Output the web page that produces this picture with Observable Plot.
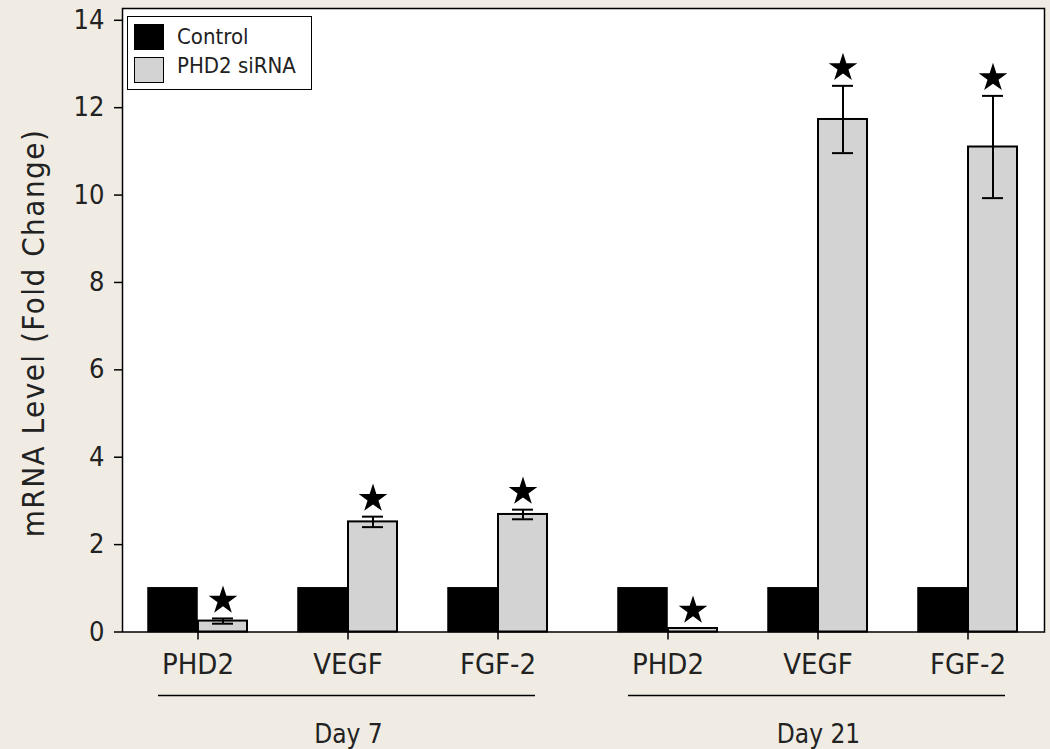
<!DOCTYPE html>
<html>
<head>
<meta charset="utf-8">
<script src="https://cdn.jsdelivr.net/npm/d3@7"></script>
<script src="https://cdn.jsdelivr.net/npm/@observablehq/plot@0.6"></script>
<style>
  html, body { margin: 0; padding: 0; background: #f0ece3; }
  #wrap { position: relative; width: 1050px; height: 749px; overflow: hidden; }
  #wrap svg { display: block; }
  .font { font-family: "DejaVu Sans Condensed", "DejaVu Sans", sans-serif; font-stretch: condensed; }
  #legend { position: absolute; left: 127px; top: 16px; width: 185px; height: 74px;
            border: 1.5px solid #000; background: #fff; box-sizing: border-box; }
  .sw { position: absolute; left: 6px; width: 30px; height: 26px; box-sizing: border-box; border: 1.5px solid #000; }
  .lt { position: absolute; left: 49px; font-size: 22px; color: #222; line-height: 1; white-space: nowrap; }
  #ylabel { position: absolute; left: 32.5px; top: 333px; transform: translate(-50%, -50%) rotate(-90deg);
            font-family: "DejaVu Sans", sans-serif; font-size: 31px; letter-spacing: 1.5px; line-height: 1; color: #222; white-space: nowrap; }
</style>
</head>
<body>
<div id="wrap" class="font"></div>
<script>
// ---- data ----
const days = ["Day 7", "Day 21"];
const genes = ["PHD2", "VEGF", "FGF-2"];
const treatments = ["Control", "PHD2 siRNA"];
const controlValues = [1, 1, 1, 1, 1, 1];           // Day 7 x3, Day 21 x3
const sirnaValues   = [0.25, 2.52, 2.69, 0.08, 11.73, 11.1];
const sirnaErrors   = [0.06, 0.12, 0.11, 0.0, 0.77, 1.17];
const significant   = [true, true, true, true, true, true];
const yTicks = [0, 2, 4, 6, 8, 10, 12, 14];
const yLabel = "mRNA Level (Fold Change)";
const colors = {"Control": "#000000", "PHD2 siRNA": "#d3d3d3"};

const rows = [];
days.forEach((day, di) => genes.forEach((gene, gi) => {
  const i = di * genes.length + gi;
  rows.push({day, gene, treatment: "Control", value: controlValues[i], err: 0, sig: false});
  rows.push({day, gene, treatment: "PHD2 siRNA", value: sirnaValues[i], err: sirnaErrors[i], sig: significant[i]});
}));
const ctrl = rows.filter(d => d.treatment === "Control");
const sirna = rows.filter(d => d.treatment === "PHD2 siRNA");

const fontFamily = '"DejaVu Sans Condensed", "DejaVu Sans", sans-serif';

const chart = Plot.plot({
  width: 1050,
  height: 749,
  marginLeft: 122,
  marginRight: 6,
  marginTop: 8,
  marginBottom: 117.5,
  style: {background: "transparent", fontFamily, color: "#222", overflow: "visible"},
  fx: {domain: days, paddingInner: 0.0383, paddingOuter: 0, label: null},
  x: {domain: genes, paddingInner: 0.3377, paddingOuter: 0.1656, label: null},
  y: {domain: [0, 14.27], label: null},
  marks: [
    Plot.frame({facet: "super", fill: "white", stroke: null}),
    Plot.barY(ctrl, {fx: "day", x: "gene", y: "value", fill: colors["Control"], stroke: "#000", strokeWidth: 1.5, insetRight: 50}),
    Plot.barY(sirna, {fx: "day", x: "gene", y: "value", fill: colors["PHD2 siRNA"], stroke: "#000", strokeWidth: 2, insetLeft: 50}),
    Plot.ruleX(sirna.filter(d => d.err > 0), {fx: "day", x: "gene", y1: d => d.value - d.err, y2: d => d.value + d.err, dx: 25, stroke: "#000", strokeWidth: 2}),
    Plot.tickY(sirna.filter(d => d.err > 0), {fx: "day", x: "gene", y: d => d.value + d.err, insetLeft: 64, insetRight: 14, stroke: "#000", strokeWidth: 2}),
    Plot.tickY(sirna.filter(d => d.err > 0), {fx: "day", x: "gene", y: d => d.value - d.err, insetLeft: 64, insetRight: 14, stroke: "#000", strokeWidth: 2}),
    Plot.dot(sirna.filter(d => d.sig), {fx: "day", x: "gene", y: d => d.value + d.err, dx: 25, dy: -18, symbol: "star", r: 9, fill: "#000", stroke: null}),
    Plot.axisY({ticks: yTicks, tickSize: 8, tickPadding: 10, fontSize: 27, label: null, stroke: "#000", strokeWidth: 1.5}),
    Plot.axisX({tickSize: 8, tickPadding: 13, fontSize: 29, label: null, stroke: "#000", strokeWidth: 1.5}),
    Plot.axisFx({anchor: "bottom", tickSize: 0, tickPadding: 93, fontSize: 26, label: null}),
    Plot.ruleY([0], {dy: 63.5, insetLeft: 36, insetRight: 39, stroke: "#000", strokeWidth: 1.5}),
    Plot.frame({facet: "super", stroke: "#000", strokeWidth: 1.5})
  ]
});

const wrap = document.getElementById("wrap");
wrap.appendChild(chart);

// y-axis title
const yl = document.createElement("div");
yl.id = "ylabel";
yl.textContent = yLabel;
wrap.appendChild(yl);

// legend inside the plot area
const legend = document.createElement("div");
legend.id = "legend";
treatments.forEach((t, i) => {
  const sw = document.createElement("div");
  sw.className = "sw";
  sw.style.top = (7 + i * 33) + "px";
  sw.style.background = colors[t];
  legend.appendChild(sw);
  const lt = document.createElement("div");
  lt.className = "lt";
  lt.style.top = (9 + i * 29) + "px";
  lt.textContent = t;
  legend.appendChild(lt);
});
wrap.appendChild(legend);
</script>
</body>
</html>
